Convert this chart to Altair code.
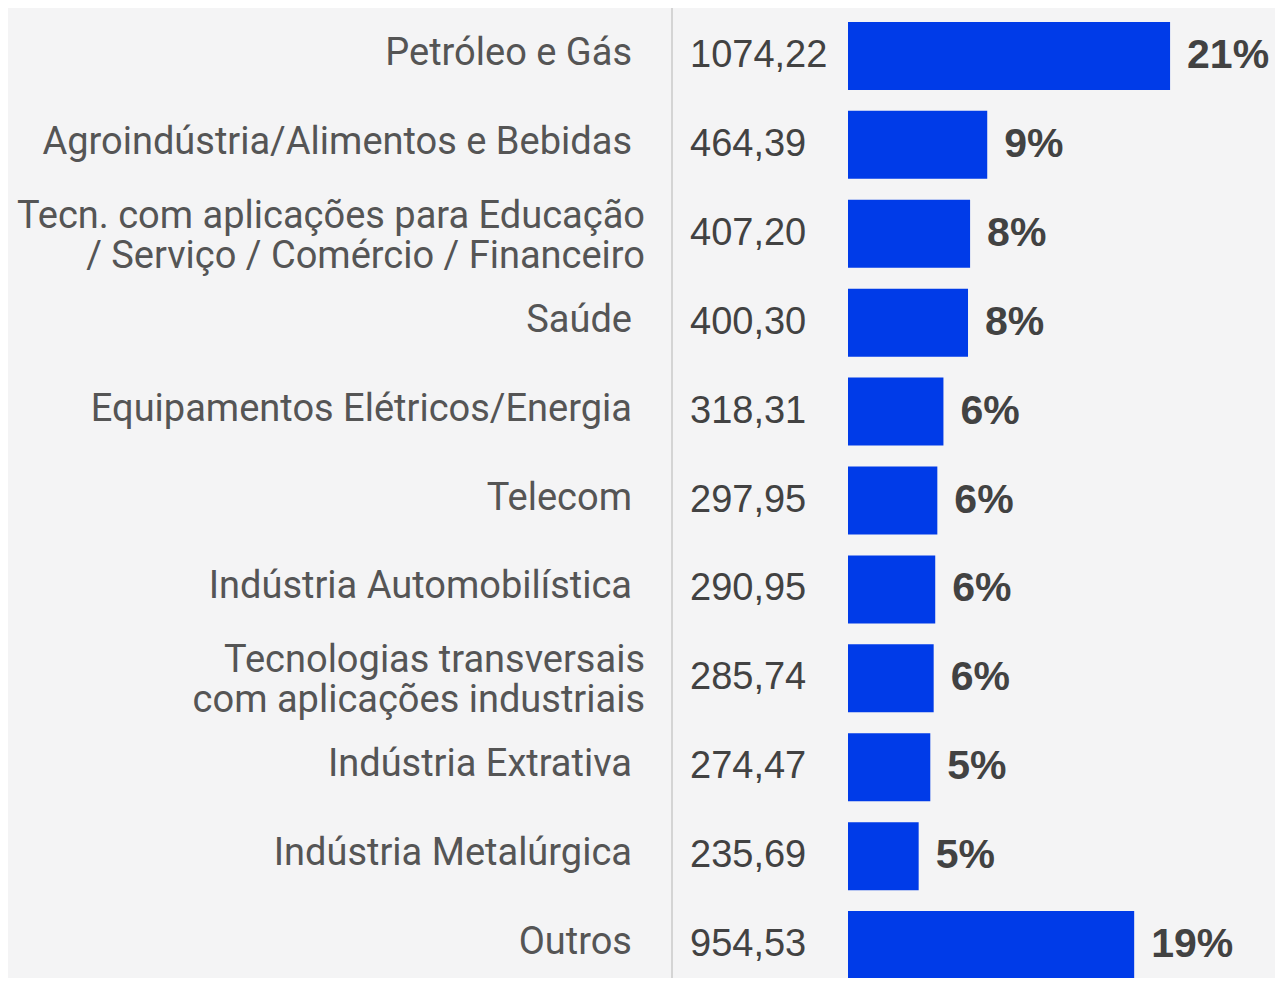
import altair as alt
import pandas as pd

categories = [
    "Petróleo e Gás",
    "Agroindústria/Alimentos e Bebidas",
    "Tecn. com aplicações para Educação\n/ Serviço / Comércio / Financeiro",
    "Saúde",
    "Equipamentos Elétricos/Energia",
    "Telecom",
    "Indústria Automobilística",
    "Tecnologias transversais\ncom aplicações industriais",
    "Indústria Extrativa",
    "Indústria Metalúrgica",
    "Outros",
]
values = [1074.22, 464.39, 407.20, 400.30, 318.31, 297.95, 290.95, 285.74, 274.47, 235.69, 954.53]
percents = ["21%", "9%", "8%", "8%", "6%", "6%", "6%", "6%", "5%", "5%", "19%"]

df = pd.DataFrame({"cat": categories, "v": values, "pct": percents})

W, H = 1267, 970
BLUE = "#003BE8"
GREY = "#424242"

yscale = alt.Scale(domain=categories, range=[3.5, 981.5], paddingInner=0.235, paddingOuter=0.1175)
y = alt.Y("cat:N", scale=yscale, axis=None, sort=None)
xscale = alt.Scale(domain=[0, 1100], range=[840, 1169.8])

base = alt.Chart(df)

bars = base.mark_bar(color=BLUE).encode(
    y=y,
    x=alt.X("v:Q", scale=xscale, axis=None),
)

pct = base.mark_text(align="left", baseline="middle", dx=17, dy=0, font="Liberation Sans",
                     fontSize=41, fontWeight="bold", color=GREY).encode(
    y=y,
    x=alt.X("v:Q", scale=xscale, axis=None),
    text="pct:N",
)

vals = base.transform_calculate(
    lab="replace(format(datum.v, '.2f'), '.', ',')"
).mark_text(align="left", baseline="middle", font="Liberation Sans", fontSize=38, color=GREY, dy=0).encode(
    y=y, x=alt.value(682), text="lab:N"
)

single = base.transform_filter("indexof(datum.cat, '\\n') < 0").mark_text(
    align="right", baseline="middle", font="Roboto", fontSize=38, color="#555555", dy=-2
).encode(y=y, x=alt.value(624), text="cat:N")

multi = base.transform_filter("indexof(datum.cat, '\\n') >= 0").mark_text(
    align="right", baseline="middle", font="Roboto", fontSize=38, color="#555555",
    lineBreak="\n", lineHeight=40, dy=-17
).encode(y=y, x=alt.value(637), text="cat:N")

rule = alt.Chart(pd.DataFrame({"a": [0]})).mark_rule(color="#d4d4d4", strokeWidth=2).encode(
    x=alt.value(664), y=alt.value(0), y2=alt.value(978)
)

chart = alt.layer(rule, bars, pct, vals, single, multi).properties(
    width=W, height=H, padding=0, autosize=alt.AutoSizeParams(type="none"),
    background="#f4f4f5",
).configure_view(stroke=None)

chart.save("out.html", embed_options={"renderer": "svg", "actions": False})
